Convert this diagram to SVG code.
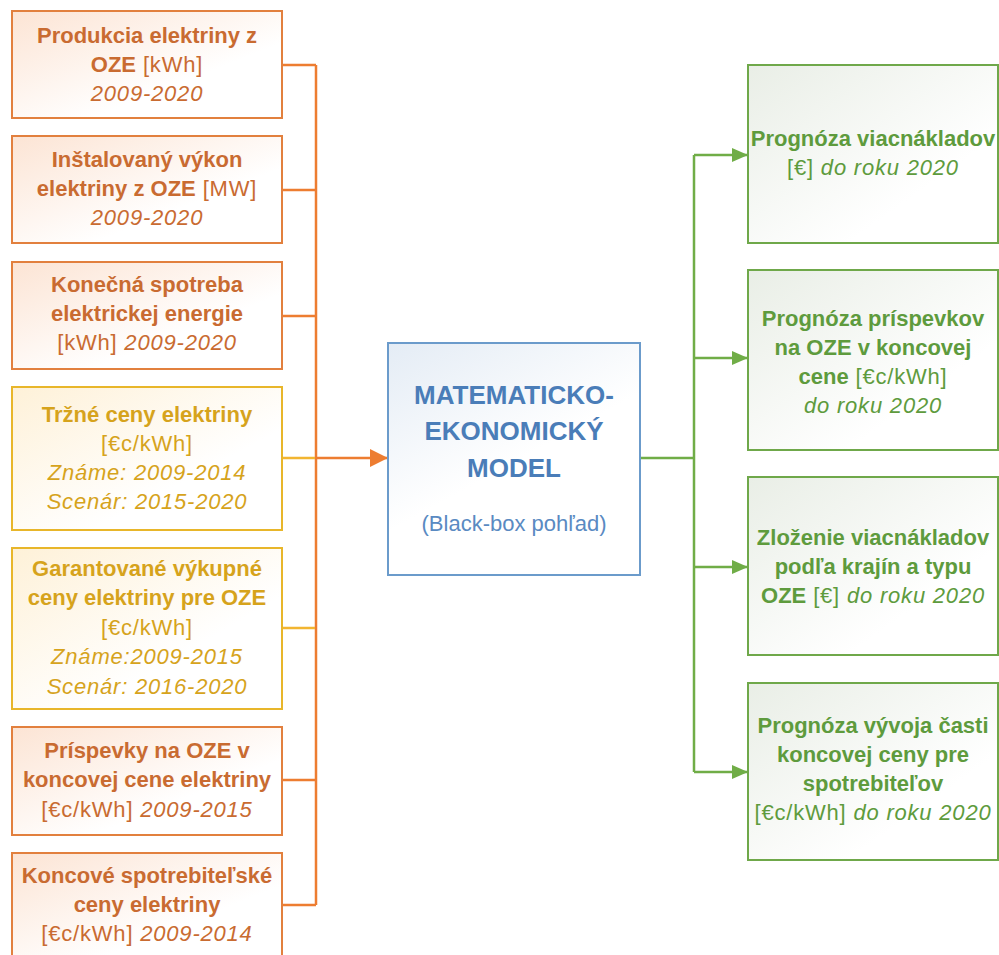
<svg xmlns="http://www.w3.org/2000/svg" width="999" height="955" viewBox="0 0 999 955">
<defs>
<linearGradient id="gOr" x1="0" y1="0" x2="1" y2="1"><stop offset="0" stop-color="#FCE4D4"/><stop offset="0.65" stop-color="#FFFFFF"/></linearGradient>
<linearGradient id="gYe" x1="0" y1="0" x2="1" y2="1"><stop offset="0" stop-color="#FEF1D8"/><stop offset="0.65" stop-color="#FFFFFF"/></linearGradient>
<linearGradient id="gBl" x1="0" y1="0" x2="0.6" y2="1"><stop offset="0" stop-color="#E4ECF5"/><stop offset="0.6" stop-color="#FFFFFF"/></linearGradient>
<linearGradient id="gGr" x1="0" y1="0" x2="1" y2="1"><stop offset="0" stop-color="#E9EEE6"/><stop offset="0.7" stop-color="#FFFFFF"/></linearGradient>
<marker id="aOr" markerUnits="userSpaceOnUse" markerWidth="18" markerHeight="18" refX="18" refY="9" orient="auto"><path d="M0,0 L18,9 L0,18 Z" fill="#ED7D31"/></marker>
<marker id="aGr" markerUnits="userSpaceOnUse" markerWidth="16" markerHeight="14" refX="16" refY="7" orient="auto"><path d="M0,0 L16,7 L0,14 Z" fill="#70AD47"/></marker>
</defs>
<style>
text{font-family:"Liberation Sans",Arial,sans-serif;font-size:22px;text-anchor:middle}
.b{font-weight:bold}
.r{font-weight:normal;letter-spacing:0.8px}
.i{font-style:italic;font-weight:normal;letter-spacing:0.8px}
.or rect{fill:url(#gOr);stroke:#E2803E;stroke-width:2}
.or text{fill:#C96B31}
.ye rect{fill:url(#gYe);stroke:#E8B62A;stroke-width:2}
.ye text{fill:#D6A31C}
.gr rect{fill:url(#gGr);stroke:#6FA84A;stroke-width:2}
.gr text{fill:#5E9B3D}
.c{fill:none;stroke-width:2.5}
</style>
<g id="connectors">
<path class="c" stroke="#ED7D31" d="M282,65 H316 M282,190 H316 M282,316 H316 M282,780 H316 M282,905 H316 M316,65 V905"/>
<path class="c" stroke="#F2B531" d="M282,458 H315 M282,628 H315"/>
<path class="c" stroke="#ED7D31" d="M316,458 H388" marker-end="url(#aOr)"/>
<path class="c" stroke="#70AD47" d="M640,458 H694 M694,155 V772"/>
<path class="c" stroke="#70AD47" d="M694,155 H748" marker-end="url(#aGr)"/>
<path class="c" stroke="#70AD47" d="M694,358 H748" marker-end="url(#aGr)"/>
<path class="c" stroke="#70AD47" d="M694,567 H748" marker-end="url(#aGr)"/>
<path class="c" stroke="#70AD47" d="M694,772 H748" marker-end="url(#aGr)"/>
</g>
<g id="in1" class="or"><rect x="12" y="11" width="270" height="107"/>
<text x="147" y="43" class="b">Produkcia elektriny z</text>
<text x="147" y="72"><tspan class="b">OZE</tspan><tspan class="r"> [kWh]</tspan></text>
<text x="147" y="101" class="i">2009-2020</text></g>
<g id="in2" class="or"><rect x="12" y="136" width="270" height="107"/>
<text x="147" y="167" class="b">Inštalovaný výkon</text>
<text x="147" y="196"><tspan class="b">elektriny z OZE</tspan><tspan class="r"> [MW]</tspan></text>
<text x="147" y="225" class="i">2009-2020</text></g>
<g id="in3" class="or"><rect x="12" y="262" width="270" height="107"/>
<text x="147" y="292" class="b">Konečná spotreba</text>
<text x="147" y="321" class="b">elektrickej energie</text>
<text x="147" y="350"><tspan class="r">[kWh] </tspan><tspan class="i">2009-2020</tspan></text></g>
<g id="in4" class="ye"><rect x="12" y="387" width="270" height="143"/>
<text x="147" y="422" class="b">Tržné ceny elektriny</text>
<text x="147" y="451" class="r">[€c/kWh]</text>
<text x="147" y="480" class="i">Známe: 2009-2014</text>
<text x="147" y="509" class="i">Scenár: 2015-2020</text></g>
<g id="in5" class="ye"><rect x="12" y="548" width="270" height="161"/>
<text x="147" y="576" class="b">Garantované výkupné</text>
<text x="147" y="605" class="b">ceny elektriny pre OZE</text>
<text x="147" y="635" class="r">[€c/kWh]</text>
<text x="147" y="664" class="i">Známe:2009-2015</text>
<text x="147" y="694" class="i">Scenár: 2016-2020</text></g>
<g id="in6" class="or"><rect x="12" y="727" width="270" height="108"/>
<text x="147" y="758" class="b">Príspevky na OZE v</text>
<text x="147" y="787" class="b">koncovej cene elektriny</text>
<text x="147" y="817"><tspan class="r">[€c/kWh] </tspan><tspan class="i">2009-2015</tspan></text></g>
<g id="in7" class="or"><rect x="12" y="853" width="270" height="108"/>
<text x="147" y="883" class="b">Koncové spotrebiteľské</text>
<text x="147" y="912" class="b">ceny elektriny</text>
<text x="147" y="941"><tspan class="r">[€c/kWh] </tspan><tspan class="i">2009-2014</tspan></text></g>
<g id="model"><rect x="388" y="343" width="252" height="232" fill="url(#gBl)" stroke="#6B9BCB" stroke-width="2"/>
<text x="514" y="404" class="b" fill="#4A7DB8" style="font-size:26px">MATEMATICKO-</text>
<text x="514" y="440" class="b" fill="#4A7DB8" style="font-size:26px">EKONOMICKÝ</text>
<text x="514" y="477" class="b" fill="#4A7DB8" style="font-size:26px">MODEL</text>
<text x="514" y="531" fill="#5A8AC2">(Black-box pohľad)</text></g>
<g id="out1" class="gr"><rect x="748" y="65" width="250" height="178"/>
<text x="873" y="146" class="b">Prognóza viacnákladov</text>
<text x="873" y="175"><tspan class="r">[€] </tspan><tspan class="i">do roku 2020</tspan></text></g>
<g id="out2" class="gr"><rect x="748" y="270" width="250" height="180"/>
<text x="873" y="326" class="b">Prognóza príspevkov</text>
<text x="873" y="355" class="b">na OZE v koncovej</text>
<text x="873" y="384"><tspan class="b">cene</tspan><tspan class="r"> [€c/kWh]</tspan></text>
<text x="873" y="413" class="i">do roku 2020</text></g>
<g id="out3" class="gr"><rect x="748" y="477" width="250" height="178"/>
<text x="873" y="545" class="b">Zloženie viacnákladov</text>
<text x="873" y="574" class="b">podľa krajín a typu</text>
<text x="873" y="603"><tspan class="b">OZE</tspan><tspan class="r"> [€] </tspan><tspan class="i">do roku 2020</tspan></text></g>
<g id="out4" class="gr"><rect x="748" y="683" width="250" height="177"/>
<text x="873" y="733" class="b">Prognóza vývoja časti</text>
<text x="873" y="762" class="b">koncovej ceny pre</text>
<text x="873" y="791" class="b">spotrebiteľov</text>
<text x="873" y="820"><tspan class="r">[€c/kWh] </tspan><tspan class="i">do roku 2020</tspan></text></g>
</svg>
